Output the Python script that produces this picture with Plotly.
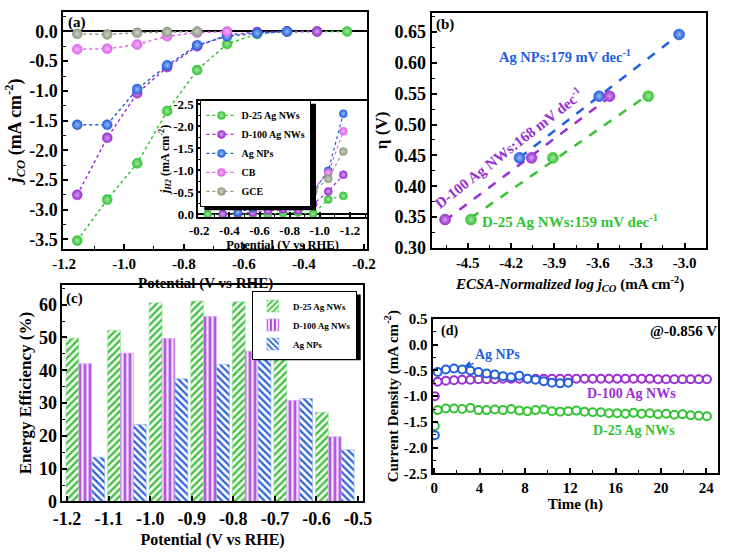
import plotly.graph_objects as go
import numpy as np

W, H = 734, 554
SERIF = "Liberation Serif"

# ---------------- data ----------------
# (a) main: CO partial current density
pot_a = [-1.156, -1.056, -0.956, -0.856, -0.756, -0.656, -0.556, -0.456, -0.356, -0.256]
jco_d25 = [-3.52, -2.83, -2.22, -1.34, -0.65, -0.21, -0.04, 0.0, 0.0, 0.0]
jco_d100 = [-2.75, -1.79, -1.04, -0.60, -0.25, -0.06, -0.01, 0.0, 0.0]
jco_agnp = [-1.57, -1.57, -0.97, -0.57, -0.23, -0.08, -0.03, 0.0]
jco_cb = [-0.30, -0.29, -0.22, -0.08, -0.02, 0.0]
jco_gce = [-0.04, -0.05, -0.02, -0.01, 0.0]

# (a) inset: H2 partial current density
pot_in = [-0.256, -0.356, -0.456, -0.556, -0.656, -0.756, -0.856, -0.956, -1.056, -1.156]
jh2_d25 = [0.0, 0.0, 0.0, 0.0, 0.0, -0.03, -0.04, -0.01, -0.34, -0.42]
jh2_d100 = [0.0, -0.02, -0.04, -0.08, -0.11, -0.09, -0.23, -0.52, -0.90]
jh2_agnp = [-0.05, -0.14, -0.20, -0.27, -0.29, -0.52, -0.99, -2.29]
jh2_cb = [-0.23, -0.30, -0.42, -0.57, -0.94, -1.89]
jh2_gce = [-0.31, -0.38, -0.52, -0.81, -1.43]

# (b) Tafel
logj_d25 = [-4.478, -3.911, -3.251]
eta_d25 = [0.346, 0.446, 0.546]
logj_d100 = [-4.657, -4.059, -3.519]
eta_d100 = [0.346, 0.446, 0.546]
logj_agnp = [-4.142, -3.591, -3.038]
eta_agnp = [0.446, 0.546, 0.646]

# (c) energy efficiency
pot_c = [-1.156, -1.056, -0.956, -0.856, -0.756, -0.656, -0.556]
ee_d25 = [49.8, 52.2, 60.6, 61.1, 60.9, 51.2, 27.2]
ee_d100 = [42.0, 45.2, 49.7, 56.4, 45.8, 30.8, 19.7]
ee_agnp = [13.5, 23.5, 37.4, 41.8, 43.5, 31.4, 15.8]

# (d) stability
time_h = [0.05, 0.30, 1.02, 1.74, 2.46, 3.18, 3.90, 4.62, 5.34, 6.06,
          6.78, 7.50, 8.22, 8.94, 9.66, 10.38, 11.10, 11.82, 12.54, 13.26,
          13.98, 14.70, 15.42, 16.14, 16.86, 17.58, 18.30, 19.02, 19.74, 20.46,
          21.18, 21.90, 22.62, 23.34, 24.06]
cd_d25 = [-1.58, -1.27, -1.24, -1.24, -1.25, -1.23, -1.27, -1.27, -1.26, -1.27,
          -1.25, -1.28, -1.29, -1.27, -1.26, -1.29, -1.30, -1.29, -1.28, -1.30,
          -1.31, -1.31, -1.33, -1.33, -1.34, -1.32, -1.34, -1.33, -1.35, -1.34,
          -1.36, -1.35, -1.37, -1.38, -1.39]
cd_d100 = [-1.00, -0.72, -0.70, -0.69, -0.68, -0.68, -0.67, -0.67, -0.67, -0.66,
           -0.66, -0.66, -0.66, -0.66, -0.66, -0.66, -0.66, -0.66, -0.66, -0.66,
           -0.66, -0.66, -0.66, -0.66, -0.66, -0.66, -0.66, -0.66, -0.67, -0.67,
           -0.67, -0.67, -0.67, -0.67, -0.67]
cd_agnp = [-1.76, -0.53, -0.48, -0.46, -0.48, -0.50, -0.53, -0.56, -0.58, -0.61,
           -0.63, -0.60, -0.66, -0.68, -0.71, -0.74, -0.75, -0.74]

# tick labels
ticks_a_x = [-1.2, -1.0, -0.8, -0.6, -0.4, -0.2]
ticks_a_y = [0.0, -0.5, -1.0, -1.5, -2.0, -2.5, -3.0, -3.5]
ticks_in_x = [-0.2, -0.4, -0.6, -0.8, -1.0, -1.2]
ticks_in_y = [-2.5, -2.0, -1.5, -1.0, -0.5, 0.0]
ticks_b_x = [-4.5, -4.2, -3.9, -3.6, -3.3, -3.0]
ticks_b_y = [0.30, 0.35, 0.40, 0.45, 0.50, 0.55, 0.60, 0.65]
ticks_c_x = [-1.2, -1.1, -1.0, -0.9, -0.8, -0.7, -0.6, -0.5]
ticks_c_y = [0, 10, 20, 30, 40, 50, 60]
ticks_d_x = [0, 4, 8, 12, 16, 20, 24]
ticks_d_y = [0.5, 0.0, -0.5, -1.0, -1.5, -2.0, -2.5]

C_G = "#33c433"
C_P = "#9a2fd2"
C_B = "#2160dc"
C_CB = "#dd62ec"
C_GCE = "#8d9c80"


def lighten(hexc, f):
    h = hexc.lstrip("#")
    r, g, b = (int(h[i:i + 2], 16) for i in (0, 2, 4))
    r = int(r + (255 - r) * f); g = int(g + (255 - g) * f); b = int(b + (255 - b) * f)
    return f"rgb({r},{g},{b})"


def fx(p):
    return p / W


def fy(p):
    return 1 - p / H


def lab(vals, fmt):
    return [format(v, fmt).replace("\u2212", "-") for v in vals]


fig = go.Figure()


def sphere(color, size):
    return dict(size=size, color=color, line=dict(color=color, width=0.5),
                gradient=dict(type="radial", color=lighten(color, 0.55)))


# (a) main
for xs, ys, c in [(pot_a, jco_d25, C_G), (pot_a[:9], jco_d100, C_P), (pot_a[:8], jco_agnp, C_B),
                  (pot_a[:6], jco_cb, C_CB), (pot_a[:5], jco_gce, C_GCE)]:
    fig.add_trace(go.Scatter(x=xs, y=ys, mode="lines+markers", xaxis="x", yaxis="y",
                             line=dict(color=c, width=1.5, dash="dot"),
                             marker=sphere(c, 10), showlegend=False))

# (a) inset
for xs, ys, c, nm in [(pot_in, jh2_d25, C_G, "D-25 Ag NWs"), (pot_in[1:], jh2_d100, C_P, "D-100 Ag NWs"),
                      (pot_in[2:], jh2_agnp, C_B, "Ag NPs"), (pot_in[4:], jh2_cb, C_CB, "CB"),
                      (pot_in[5:], jh2_gce, C_GCE, "GCE")]:
    fig.add_trace(go.Scatter(x=xs, y=ys, mode="lines+markers", xaxis="x5", yaxis="y5", name=nm,
                             line=dict(color=c, width=1.2, dash="dot"),
                             marker=sphere(c, 8), legend="legend2"))

# (b)
for xs, ys, c in [(logj_agnp, eta_agnp, C_B), (logj_d100, eta_d100, C_P), (logj_d25, eta_d25, C_G)]:
    k, b0 = np.polyfit(xs, ys, 1)
    xl = [min(xs), max(xs)]
    fig.add_trace(go.Scatter(x=xl, y=[k * v + b0 for v in xl], mode="lines", xaxis="x2", yaxis="y2",
                             line=dict(color=c, width=2.5, dash="dash"), showlegend=False))
for xs, ys, c in [(logj_agnp, eta_agnp, C_B), (logj_d100, eta_d100, C_P), (logj_d25, eta_d25, C_G)]:
    fig.add_trace(go.Scatter(x=xs, y=ys, mode="markers", xaxis="x2", yaxis="y2",
                             marker=sphere(c, 11), showlegend=False))

# (c)
for ys, nm, c, shp, bg in [(ee_d25, "D-25 Ag NWs", "#3cc03c", "/", "#f4fcf4"),
                           (ee_d100, "D-100 Ag NWs", "#a33ad6", "|", "#f6e4fa"),
                           (ee_agnp, "Ag NPs", "#2a62d8", "\\", "#ffffff")]:
    fig.add_trace(go.Bar(x=pot_c, y=ys, name=nm, xaxis="x3", yaxis="y3", legend="legend",
                         marker=dict(color=bg, line=dict(color=lighten(c, 0.5), width=0.6),
                                     pattern=dict(shape=shp, fgcolor=c, bgcolor=bg, size=5,
                                                  solidity=0.45, fillmode="replace"))))

# (d)
for xs, ys, c in [(time_h, cd_d100, C_P), (time_h, cd_d25, C_G), (time_h[:len(cd_agnp)], cd_agnp, C_B)]:
    fig.add_trace(go.Scatter(x=xs, y=ys, mode="markers", xaxis="x4", yaxis="y4", showlegend=False,
                             marker=dict(size=8, color="white", line=dict(color=c, width=2))))


def axis(domain, rng, tv, fmt, size, anchor, minor_dtick=None, title=None, tsize=16, standoff=None,
         zero=False):
    d = dict(domain=domain, range=rng, anchor=anchor, showline=True, linecolor="black", linewidth=2,
             mirror=True, ticks="inside", ticklen=5, tickwidth=1.5, tickcolor="black",
             showgrid=False, zeroline=zero, zerolinecolor="black", zerolinewidth=2,
             tickmode="array", tickvals=tv, ticktext=lab(tv, fmt),
             tickfont=dict(family=SERIF, size=size, color="black", weight="bold"))
    if minor_dtick:
        d["minor"] = dict(ticks="inside", ticklen=3, tickwidth=1.2, tickcolor="black",
                          tickmode="linear", dtick=minor_dtick, showgrid=False)
    if title:
        d["title"] = dict(text=title, font=dict(family=SERIF, size=tsize, color="black", weight="bold"))
        if standoff is not None:
            d["title"]["standoff"] = standoff
    return d


pot_title = "Potential (V vs RHE)"
LEG_C = (248, 292)     # top-left of bar legend (px)
LEG_IN = (195, 95)     # top-left of inset legend (px)
layout = dict(
    width=W, height=H, margin=dict(l=0, r=0, t=0, b=0), autosize=False,
    paper_bgcolor="white", plot_bgcolor="white",
    barmode="group", bargap=0.07, bargroupgap=0.0,
    xaxis=axis([fx(54), fx(366)], [-1.202, -0.191], ticks_a_x, ".1f", 15, "y", 0.1),
    yaxis=axis([fy(249), fy(4)], [-3.66, 0.33], ticks_a_y, ".1f", 18, "x", 0.25,
               "<i>j</i><sub><i>CO</i></sub> (mA cm<sup>-2</sup>)", 18, 3, zero=True),
    xaxis5=axis([fx(193), fx(366)], [-0.195, -1.31], ticks_in_x, ".1f", 13, "y5", 0.1, pot_title, 12.5, 0),
    yaxis5=axis([fy(216), fy(96)], [0.06, -2.58], ticks_in_y, ".1f", 13, "x5", 0.25,
                "<i>j</i><sub><i>H2</i></sub> (mA cm<sup>-2</sup>)", 12, 0, zero=True),
    xaxis2=axis([fx(433), fx(715)], [-4.75, -2.855], ticks_b_x, ".1f", 15, "y2", 0.15),
    yaxis2=axis([fy(248), fy(5)], [0.30, 0.681], ticks_b_y, ".2f", 18, "x2", 0.025, "η (V)", 17, 3),
    xaxis3=axis([fx(53), fx(362)], [-1.211, -0.489], ticks_c_x, ".1f", 18, "y3", None, pot_title, 16, 6),
    yaxis3=axis([fy(510), fy(286)], [0, 66.1], ticks_c_y, "d", 18, "x3", 5, "Energy Efficiency (%)", 17, 3),
    xaxis4=axis([fx(434), fx(728)], [-0.15, 25.05], ticks_d_x, "d", 15, "y4", 2, "Time (h)", 15, 1),
    yaxis4=axis([fy(481), fy(321.5)], [-2.5, 0.5], ticks_d_y, ".1f", 15, "x4", 0.25,
                "Current Density (mA cm<sup>-2</sup>)", 15, 2),
    legend=dict(x=fx(LEG_C[0]), y=fy(LEG_C[1]), xanchor="left", yanchor="top", bgcolor="white",
                bordercolor="black", borderwidth=1,
                font=dict(family=SERIF, size=9, color="black", weight="bold"),
                itemwidth=30, tracegroupgap=0),
    legend2=dict(x=fx(LEG_IN[0]), y=fy(LEG_IN[1]), xanchor="left", yanchor="top", bgcolor="white",
                 bordercolor="black", borderwidth=1,
                 font=dict(family=SERIF, size=10, color="black", weight="bold"),
                 itemwidth=30, tracegroupgap=0),
)
fig.update_layout(**layout)

# legend drop shadows (estimated legend box sizes, offset 4 px)
fig.add_shape(type="rect", xref="paper", yref="paper", x0=fx(LEG_C[0] + 4), x1=fx(LEG_C[0] + 112),
              y0=fy(LEG_C[1] + 72), y1=fy(LEG_C[1] + 4), fillcolor="black", line=dict(width=0), layer="above")
fig.add_shape(type="rect", xref="paper", yref="paper", x0=fx(LEG_IN[0] + 4), x1=fx(LEG_IN[0] + 119),
              y0=fy(LEG_IN[1] + 114), y1=fy(LEG_IN[1] + 4), fillcolor="black", line=dict(width=0), layer="above")


def ann(text, x, y, color="black", size=15, angle=0, xanchor="center"):
    fig.add_annotation(text=text, x=fx(x), y=fy(y), xref="paper", yref="paper", showarrow=False,
                       xanchor=xanchor, yanchor="middle", textangle=angle,
                       font=dict(family=SERIF, size=size, color=color, weight="bold"))


# x-axis titles of the top row (placed as in the reference)
ann(pot_title, 200, 285, "black", 15)
ann("<i>ECSA-Normalized log j</i><sub><i>CO</i></sub> (mA cm<sup>-2</sup>)", 575, 285, "black", 15)

ann("(a)", 57, 15, size=15, xanchor="left")
ann("(b)", 435, 17, size=15, xanchor="left")
ann("(c)", 55, 300, size=15, xanchor="left")
ann("(d)", 441, 334, size=14, xanchor="left")

ann("Ag NPs:179 mV dec<sup>-1</sup>", 570, 50, C_B, 14.5)
ann("D-100 Ag NWs:168 mV dec<sup>-1</sup>", 512, 145, C_P, 15, -38)
ann("D-25 Ag NWs:159 mV dec<sup>-1</sup>", 575, 220, C_G, 15)

ann("@-0.856 V", 692, 334, "black", 15)
ann("D-100 Ag NWs", 639, 398, C_P, 14)
ann("D-25 Ag NWs", 641, 437, C_G, 14)
fig.add_annotation(text="Ag NPs", x=fx(466), y=fy(371), xref="paper", yref="paper", showarrow=True,
                   ax=34, ay=-12, arrowhead=2, arrowsize=1, arrowwidth=1.5, arrowcolor=C_B,
                   font=dict(family=SERIF, size=14, color=C_B, weight="bold"))

fig.write_html("out.html")
